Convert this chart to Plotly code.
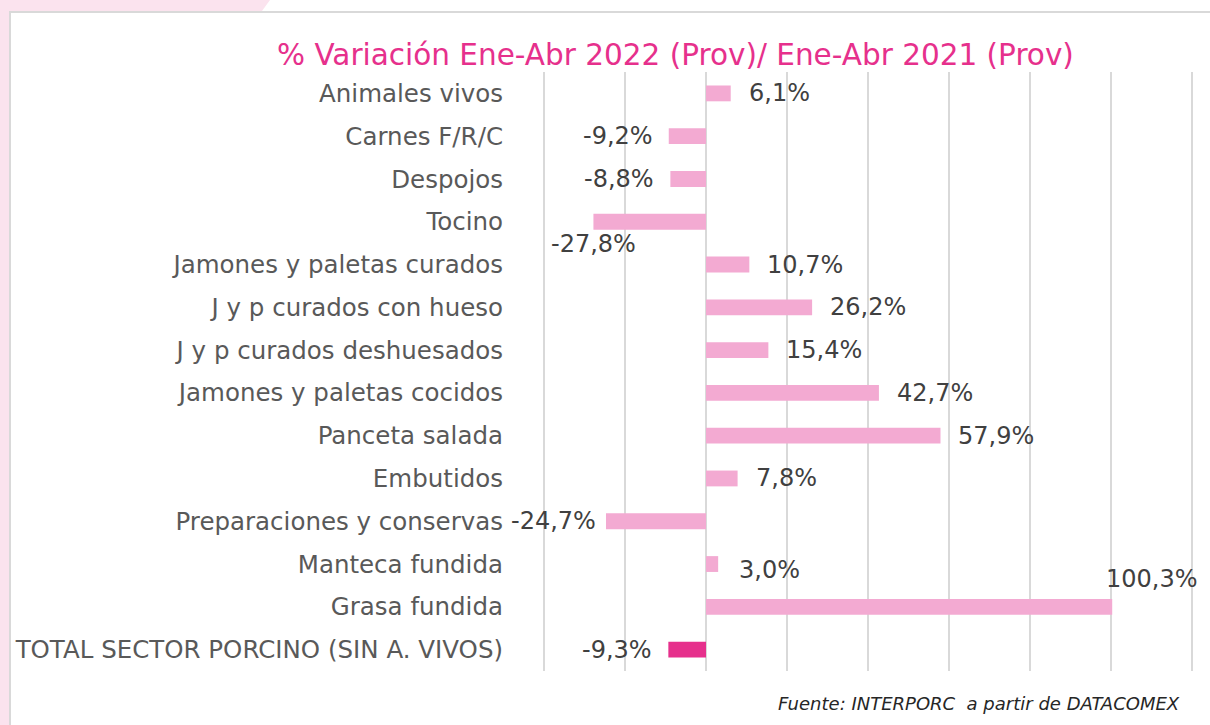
import plotly.graph_objects as go

categories = [
    "Animales vivos", "Carnes F/R/C", "Despojos", "Tocino",
    "Jamones y paletas curados", "J y p curados con hueso",
    "J y p curados deshuesados", "Jamones y paletas cocidos",
    "Panceta salada", "Embutidos", "Preparaciones y conservas",
    "Manteca fundida", "Grasa fundida", "TOTAL SECTOR PORCINO (SIN A. VIVOS)",
]
values = [6.1, -9.2, -8.8, -27.8, 10.7, 26.2, 15.4, 42.7, 57.9, 7.8, -24.7, 3.0, 100.3, -9.3]
labels = ["6,1%", "-9,2%", "-8,8%", "-27,8%", "10,7%", "26,2%", "15,4%", "42,7%",
          "57,9%", "7,8%", "-24,7%", "3,0%", "100,3%", "-9,3%"]

LIGHT = "#F3AAD2"
DARK = "#E6308C"
colors = [LIGHT] * (len(categories) - 1) + [DARK]
FONT = "DejaVu Sans"

W, H = 1210, 725
XMIN, XMAX = -40.5, 120.5
ML, MR, MT, MB = 542, 16, 72, 54
pw = W - ML - MR
ph = H - MT - MB

fig = go.Figure()
fig.add_trace(go.Bar(
    x=values, y=categories, orientation="h",
    marker=dict(color=colors, line=dict(width=0)),
    width=0.37, hoverinfo="skip",
))

# label placement tweaks (pixel shifts), keyed by category
special = {
    "Tocino": dict(xanchor="center", xshift=0, yshift=-22),
    "Grasa fundida": dict(xanchor="left", xshift=-8, yshift=28),
    "Manteca fundida": dict(xanchor="left", xshift=19, yshift=-6),
    "Preparaciones y conservas": dict(xanchor="right", xshift=-8, yshift=0),
}
for c, v, t in zip(categories, values, labels):
    if c in special:
        s = special[c]
    elif v >= 0:
        s = dict(xanchor="left", xshift=16, yshift=0)
    else:
        s = dict(xanchor="right", xshift=-14, yshift=0)
    fig.add_annotation(x=v, y=c, xref="x", yref="y", text=t, showarrow=False,
                       font=dict(size=24, color="#404040", family=FONT),
                       yanchor="middle", **s)

def px_x(p):
    return (p - ML) / pw

def px_y(p):
    return (H - MB - p) / ph

shapes = [
    # decorative pink strips
    dict(type="rect", xref="paper", yref="paper", x0=px_x(0), x1=px_x(9), y0=px_y(725), y1=px_y(0),
         fillcolor="#FBE3EE", line=dict(width=0), layer="below"),
    dict(type="path", xref="paper", yref="paper",
         path=f"M {px_x(0)},{px_y(0)} L {px_x(270)},{px_y(0)} L {px_x(262)},{px_y(11)} L {px_x(0)},{px_y(11)} Z",
         fillcolor="#FBE3EE", line=dict(width=0), layer="below"),
    # frame
    dict(type="rect", xref="paper", yref="paper", x0=px_x(10), x1=px_x(1215), y0=px_y(730), y1=px_y(12),
         fillcolor="rgba(0,0,0,0)", line=dict(color="#D9D9D9", width=2), layer="below"),
]

fig.update_layout(
    width=W, height=H,
    margin=dict(l=ML, r=MR, t=MT, b=MB),
    paper_bgcolor="white", plot_bgcolor="white",
    showlegend=False,
    shapes=shapes,
    font=dict(family=FONT, color="#595959"),
    annotations=list(fig.layout.annotations) + [
        dict(text="% Variación Ene-Abr 2022 (Prov)/ Ene-Abr 2021 (Prov)", xref="paper", yref="paper",
             x=px_x(675), y=px_y(55), xanchor="center", yanchor="middle", showarrow=False,
             font=dict(size=29.5, color="#E6308C", family=FONT)),
        dict(text="<i>Fuente: INTERPORC  a partir de DATACOMEX</i>", xref="paper", yref="paper",
             x=px_x(1182), y=px_y(703), xanchor="right", yanchor="middle", showarrow=False,
             font=dict(size=18, color="#262626", family=FONT)),
    ],
)
fig.update_xaxes(range=[XMIN, XMAX], tick0=0, dtick=20, showgrid=True, gridcolor="#D9D9D9", gridwidth=2,
                 zeroline=False, showticklabels=False, showline=False, fixedrange=True)
fig.update_yaxes(autorange="reversed", showgrid=False, zeroline=False, showline=False,
                 ticks="", ticklabelstandoff=38, tickfont=dict(size=24.5, color="#595959", family=FONT),
                 fixedrange=True)

fig.write_html("out.html", config={"displayModeBar": False},
               post_script="document.body.style.margin='0';document.body.style.overflow='hidden';")
